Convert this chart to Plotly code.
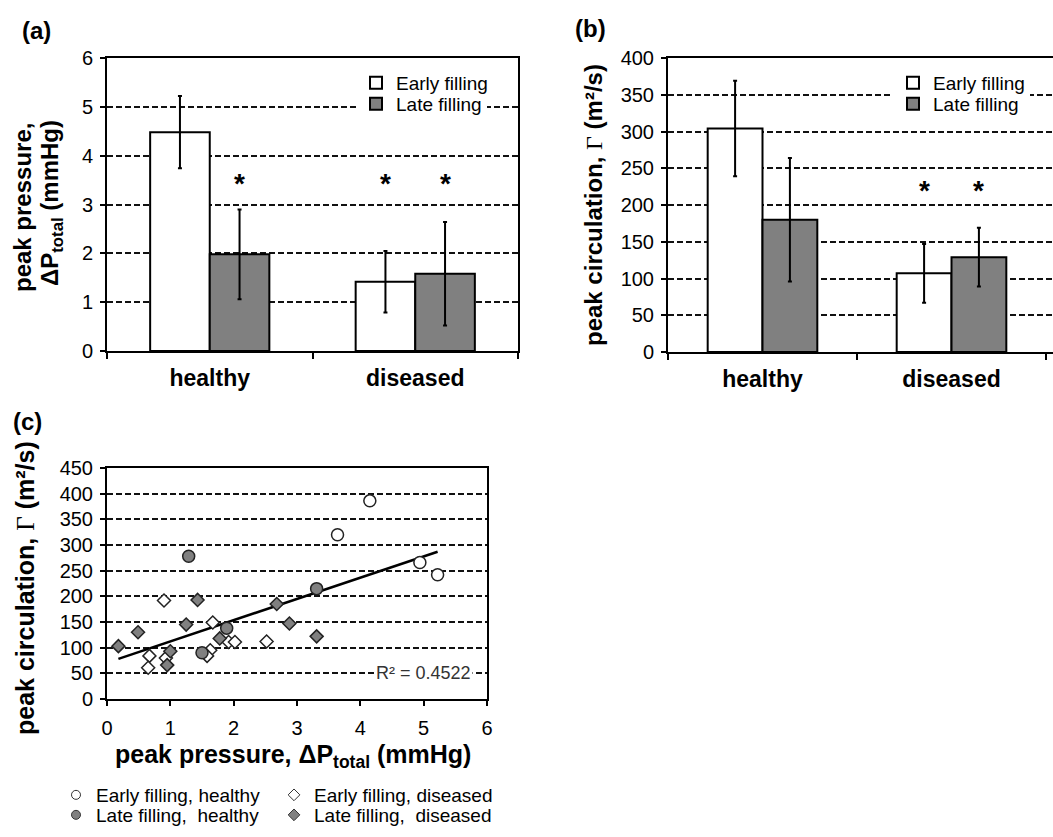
import numpy as np
import plotly.graph_objects as go

# ---------------- data ----------------
groups = ["healthy", "diseased"]

pressure_early = [4.48, 1.42]
pressure_early_err = [0.74, 0.63]
pressure_late = [1.98, 1.58]
pressure_late_err = [0.92, 1.06]

circ_early = [304, 107]
circ_early_err = [65, 40]
circ_late = [180, 129]
circ_late_err = [84, 40]

# panel (c) scatter
eh_x = [4.15, 3.64, 4.94, 5.22]
eh_y = [386, 320, 266, 242]
lh_x = [1.29, 3.31, 1.89, 1.50]
lh_y = [278, 215, 138, 90]
ed_x = [0.90, 0.67, 0.65, 0.93, 1.67, 1.63, 1.58, 1.92, 2.02, 2.52]
ed_y = [192, 84, 61, 80, 149, 95, 84, 111, 111, 112]
ld_x = [0.18, 0.49, 1.25, 1.43, 1.00, 0.95, 1.78, 2.68, 2.88, 3.31]
ld_y = [103, 130, 145, 193, 93, 66, 118, 185, 147, 122]

r2_label = "R² = 0.4522"

# ---------------- style ----------------
W, H = 1053, 837
FONT = "Arial, 'Liberation Sans', sans-serif"
GRAY = "#808080"
CLEAR = "rgba(0,0,0,0)"

def px_x(p):
    return p / W

def px_y(p):
    return 1 - p / H

fig = go.Figure()

def bar(y, err, name, color, xa, ya, leg):
    return go.Bar(
        x=groups, y=y, name=name, xaxis=xa, yaxis=ya, legend=leg,
        marker=dict(color=color, line=dict(color="black", width=2)),
        error_y=dict(type="data", array=err, color="black", thickness=2, width=2),
    )

fig.add_trace(bar(pressure_early, pressure_early_err, "Early filling", "white", "x", "y", "legend2"))
fig.add_trace(bar(pressure_late, pressure_late_err, "Late filling", GRAY, "x", "y", "legend"))
fig.add_trace(bar(circ_early, circ_early_err, "Early filling", "white", "x2", "y2", "legend3"))
fig.add_trace(bar(circ_late, circ_late_err, "Late filling", GRAY, "x2", "y2", "legend4"))

# trend line from all scatter points
all_x = np.array(eh_x + lh_x + ed_x + ld_x)
all_y = np.array(eh_y + lh_y + ed_y + ld_y)
slope, intercept = np.polyfit(all_x, all_y, 1)
tx = np.array([all_x.min(), all_x.max()])
fig.add_trace(go.Scatter(x=tx, y=slope * tx + intercept, mode="lines",
                         line=dict(color="black", width=2.5),
                         xaxis="x3", yaxis="y3", showlegend=False, hoverinfo="skip"))

def pts(x, y, sym, fill, size, name, leg):
    fig.add_trace(go.Scatter(
        x=x, y=y, mode="markers", xaxis="x3", yaxis="y3", showlegend=False, name=name,
        marker=dict(symbol=sym, color=fill, size=size, line=dict(color="#222", width=1.5))))
    # legend-only entry with small glyph
    fig.add_trace(go.Scatter(
        x=[None], y=[None], mode="markers", xaxis="x3", yaxis="y3", name=name, legend=leg,
        marker=dict(symbol=sym, color=fill, size=9, line=dict(color="#333", width=1))))

pts(ed_x, ed_y, "diamond", "white", 10, "Early filling, diseased", "legend6")
pts(ld_x, ld_y, "diamond", GRAY, 10, "Late filling,  diseased", "legend8")
pts(eh_x, eh_y, "circle", "white", 12, "Early filling, healthy", "legend5")
pts(lh_x, lh_y, "circle", GRAY, 12, "Late filling,  healthy", "legend7")

grid = dict(showgrid=True, gridcolor="#111", griddash="6px,3px", gridwidth=1.5,
            zeroline=False, showline=True, linecolor="black", linewidth=2,
            ticks="outside", ticklen=5, tickwidth=2, tickcolor="black",
            ticklabelstandoff=3,
            tickfont=dict(family=FONT, size=20, color="black"))
cat = dict(type="category", showgrid=False, zeroline=False, showline=True,
           linecolor="black", linewidth=2, ticks="outside", tickson="boundaries",
           ticklen=6, tickwidth=2, tickcolor="black", ticklabelstandoff=5,
           tickfont=dict(family=FONT, size=23, color="black", weight="bold"))

fig.update_layout(
    width=W, height=H, margin=dict(l=0, r=0, t=0, b=0, autoexpand=False),
    paper_bgcolor="white", plot_bgcolor="white",
    font=dict(family=FONT, color="black"),
    barmode="group", bargap=0.42, bargroupgap=0,
    xaxis=dict(cat, domain=[px_x(107), px_x(518)], range=[-0.5, 1.5], anchor="y", mirror=True),
    yaxis=dict(grid, domain=[px_y(351), px_y(58)], range=[0, 6], dtick=1, anchor="x", mirror=True),
    xaxis2=dict(cat, domain=[px_x(668), 1.0], range=[-0.5, 1.537], anchor="y2", mirror=True),
    yaxis2=dict(grid, domain=[px_y(352), px_y(58)], range=[0, 400], dtick=50, anchor="x2"),
    xaxis3=dict(grid, showgrid=False, domain=[px_x(107), px_x(487)], range=[0, 6], dtick=1,
                anchor="y3", mirror=True, ticklabelstandoff=5),
    yaxis3=dict(grid, domain=[px_y(699), px_y(468)], range=[0, 450], dtick=50,
                anchor="x3", mirror=True),
)

def leg(cx, cy, bg, off):
    return dict(x=px_x(cx - off), y=px_y(cy), xanchor="left", yanchor="middle",
                bgcolor=bg, borderwidth=0, font=dict(family=FONT, size=19, color="black"),
                orientation="v")

fig.update_layout(
    legend=leg(380, 104, "white", 24),
    legend2=leg(380, 83, CLEAR, 24),
    legend3=leg(917, 83, "white", 24),
    legend4=leg(917, 104, CLEAR, 24),
    legend5=leg(83, 795, CLEAR, 27),
    legend6=leg(302, 795, CLEAR, 28),
    legend7=leg(83, 815, CLEAR, 27),
    legend8=leg(302, 815, CLEAR, 28),
)

gamma = "<span style='font-family:Liberation Serif;font-weight:normal'>Γ</span>"
ann = []
def label(text, x, y, size=24, angle=0, **kw):
    ann.append(dict(text=text, x=px_x(x), y=px_y(y), xref="paper", yref="paper",
                    showarrow=False, textangle=angle, xanchor="center", yanchor="middle",
                    font=dict(family=FONT, size=size, color="black"), **kw))

label("<b>(a)</b>", 36, 30)
label("<b>(b)</b>", 590, 28)
label("<b>(c)</b>", 27, 422)
label("<b>peak pressure,</b>", 22, 208, size=24, angle=-90)
label("<b>ΔP<sub>total</sub> (mmHg)</b>", 51, 203, size=24, angle=-90)
label("<b>peak circulation, </b>" + gamma + "<b> (m²/s)</b>", 593, 205, size=24, angle=-90)
label("<b>peak circulation, </b>" + gamma + "<b> (m²/s)</b>", 25, 588, size=25, angle=-90)
label("<b>peak pressure, ΔP<sub>total</sub> (mmHg)</b>", 293, 756, size=25)

def star(xa, ya, cat_name, yv, shift):
    ann.append(dict(text="<b>*</b>", x=cat_name, y=yv, xref=xa, yref=ya, xshift=shift,
                    showarrow=False, font=dict(family=FONT, size=28, color="black")))

star("x", "y", "healthy", 3.42, 30)
star("x", "y", "diseased", 3.42, -30)
star("x", "y", "diseased", 3.42, 30)
star("x2", "y2", "diseased", 220, -27)
star("x2", "y2", "diseased", 220, 27)

ann.append(dict(text=r2_label, x=5.0, y=50, xref="x3", yref="y3", showarrow=False,
                xanchor="center", yanchor="middle", bgcolor="white",
                font=dict(family=FONT, size=18, color="#333")))

fig.update_layout(annotations=ann)
fig.write_html("out.html", config={"displayModeBar": False},
               post_script="document.body.style.margin='0px';document.body.style.overflow='hidden';")
